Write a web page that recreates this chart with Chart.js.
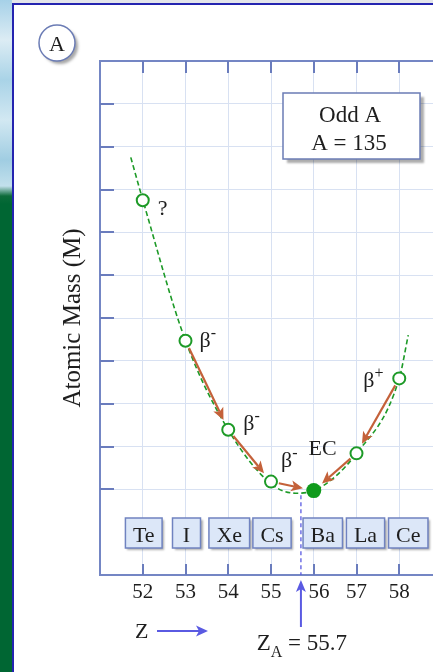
<!DOCTYPE html>
<html>
<head>
<meta charset="utf-8">
<script src="https://cdn.jsdelivr.net/npm/chart.js@4.4.1/dist/chart.umd.min.js"></script>
<style>
  html, body { margin: 0; padding: 0; width: 433px; height: 672px; overflow: hidden; background: #fff; }
  #sky { position: absolute; left: 0; top: 0; width: 12px; height: 672px;
    background: linear-gradient(to bottom, #a6d1e8 0px, #dcecf4 40px, #a9d3e7 80px, #d2e8f2 120px,
      #a0cde2 160px, #c2e0ec 186px, #0d6b3a 196px, #006633 204px, #006633 672px); }
  #edgeTop { position: absolute; left: 12px; top: 0; width: 421px; height: 3px; background: #e3e5ea; }
  #edgeTopLine { position: absolute; left: 12px; top: 3px; width: 421px; height: 2px; background: #2424b0; }
  #edgeLeft { position: absolute; left: 12px; top: 3px; width: 2px; height: 669px; background: #2424b0; }
  #wrap { position: absolute; left: 0; top: 0; width: 450px; height: 672px; }
</style>
</head>
<body>
<div id="sky"></div>
<div id="edgeTop"></div>
<div id="edgeTopLine"></div>
<div id="edgeLeft"></div>
<div id="wrap"><canvas id="chart" width="450" height="672"></canvas></div>
<script>
// Isobars with mass number A = 135
const protonNumbers = [52, 53, 54, 55, 56, 57, 58];
const symbols = ['Te', 'I', 'Xe', 'Cs', 'Ba', 'La', 'Ce'];
const atomicMass = [8.75, 5.47, 3.39, 2.18, 1.97, 2.84, 4.59];
const stableZ = 56;

// Mass parabola traced through the isobars
const curveZ = [51.72, 52, 53, 54, 55, 55.57, 56, 57, 58, 58.21];
const curveMass = [9.75, 8.76, 5.47, 3.39, 2.13, 1.91, 1.97, 2.84, 4.59, 5.6];

// Decay steps toward the stable isobar
const decayFrom = [53, 54, 55, 57, 58];
const decayTo = [54, 55, 56, 56, 57];
const decayLabels = ['β⁻', 'β⁻', 'β⁻', 'EC', 'β⁺'];

const zA = 55.7;
const xTicks = [52, 53, 54, 55, 56, 57, 58];
const yTicks = [2, 3, 4, 5, 6, 7, 8, 9, 10, 11];
const boxTitle = ['Odd A', 'A = 135'];

const SERIF = "'Liberation Serif', 'Times New Roman', serif";
const INK = '#1e1e1e';
const FRAME = '#7486c4';
const TICK = '#6a7cbd';
const GRID = '#d8e1f2';
const GREEN = '#1d9a27';
const DOT = '#0f9a1c';
const DECAY = '#c4613a';
const ZBLUE = '#5a5ae2';

function drawArrow(ctx, x1, y1, x2, y2, color, lw, headLen, headHalf) {
  const a = Math.atan2(y2 - y1, x2 - x1);
  const c = Math.cos(a), s = Math.sin(a);
  const bx = x2 - c * headLen, by = y2 - s * headLen;
  ctx.save();
  ctx.setLineDash([]);
  ctx.strokeStyle = color;
  ctx.fillStyle = color;
  ctx.lineWidth = lw;
  ctx.beginPath();
  ctx.moveTo(x1, y1);
  ctx.lineTo(bx + c * 3, by + s * 3);
  ctx.stroke();
  ctx.beginPath();
  ctx.moveTo(x2, y2);
  ctx.lineTo(bx - s * headHalf, by + c * headHalf);
  ctx.lineTo(bx + c * 3, by + s * 3);
  ctx.lineTo(bx + s * headHalf, by - c * headHalf);
  ctx.closePath();
  ctx.fill();
  ctx.restore();
}

function shadowRect(ctx, x, y, w, h, fill, stroke, off) {
  ctx.save();
  ctx.shadowColor = 'rgba(0,0,0,0.32)';
  ctx.shadowOffsetX = off;
  ctx.shadowOffsetY = off;
  ctx.shadowBlur = 2;
  ctx.fillStyle = fill;
  ctx.fillRect(x, y, w, h);
  ctx.restore();
  ctx.save();
  ctx.strokeStyle = stroke;
  ctx.lineWidth = 1.5;
  ctx.strokeRect(x, y, w, h);
  ctx.restore();
}

// Base symbol with an optional raised charge sign
function drawDecayLabel(ctx, text, x, baseline) {
  const m = text.match(/^(.*?)([⁺⁻]?)$/);
  const base = m[1];
  const sup = m[2] === '⁺' ? '+' : (m[2] === '⁻' ? '-' : '');
  ctx.save();
  ctx.fillStyle = INK;
  ctx.textAlign = 'left';
  ctx.textBaseline = 'alphabetic';
  ctx.font = `22px ${SERIF}`;
  ctx.fillText(base, x, baseline);
  if (sup) {
    const w = ctx.measureText(base).width;
    ctx.font = `16px ${SERIF}`;
    ctx.fillText(sup, x + w, baseline - 9);
  }
  ctx.restore();
}

const annotate = {
  id: 'annotate',
  beforeDatasetsDraw(chart) {
    const { ctx, chartArea: ca, scales: { x, y } } = chart;
    ctx.save();

    // upper frame edge
    ctx.strokeStyle = FRAME;
    ctx.lineWidth = 2;
    ctx.beginPath();
    ctx.moveTo(ca.left - 1, ca.top);
    ctx.lineTo(ca.right, ca.top);
    ctx.stroke();

    // tick marks pointing into the plot
    ctx.strokeStyle = TICK;
    ctx.lineWidth = 2;
    ctx.beginPath();
    yTicks.forEach(v => {
      const py = Math.round(y.getPixelForValue(v));
      ctx.moveTo(ca.left, py);
      ctx.lineTo(ca.left + 14, py);
    });
    xTicks.forEach(v => {
      const px = Math.round(x.getPixelForValue(v));
      ctx.moveTo(px, ca.top);
      ctx.lineTo(px, ca.top + 12);
      ctx.moveTo(px, ca.bottom);
      ctx.lineTo(px, ca.bottom - 11);
    });
    ctx.stroke();

    // Z_A marker line down from the bottom of the parabola
    const xa = x.getPixelForValue(zA);
    ctx.strokeStyle = ZBLUE;
    ctx.lineWidth = 1.3;
    ctx.setLineDash([4, 3]);
    ctx.beginPath();
    ctx.moveTo(xa, y.getPixelForValue(Math.min(...curveMass)) + 2);
    ctx.lineTo(xa, ca.bottom);
    ctx.stroke();
    ctx.setLineDash([]);

    // element symbol boxes
    ctx.font = `22px ${SERIF}`;
    symbols.forEach((s, i) => {
      const z = protonNumbers[i];
      const cx = x.getPixelForValue(z) + (z > zA ? 9 : 1);
      const w = Math.max(28, ctx.measureText(s).width + 15);
      const top = ca.bottom - 57;
      shadowRect(ctx, cx - w / 2, top, w, 30, '#dce7f8', '#7083c0', 2);
      ctx.fillStyle = INK;
      ctx.textAlign = 'center';
      ctx.textBaseline = 'alphabetic';
      ctx.fillText(s, cx, top + 23.5);
    });

    // "Odd A" caption box
    const bx = ca.left + 183, by = ca.top + 32, bw = 137, bh = 66;
    shadowRect(ctx, bx, by, bw, bh, '#ffffff', '#6b7cb5', 4);
    ctx.font = `23px ${SERIF}`;
    ctx.fillStyle = INK;
    ctx.textAlign = 'center';
    ctx.textBaseline = 'alphabetic';
    ctx.fillText(boxTitle[0], bx + 67, by + 29);
    ctx.fillText(boxTitle[1], bx + 66, by + 57);
    ctx.restore();
  },

  afterDatasetsDraw(chart) {
    const { ctx, scales: { x, y } } = chart;
    const pt = z => ({
      x: x.getPixelForValue(z),
      y: y.getPixelForValue(atomicMass[protonNumbers.indexOf(z)])
    });
    const labelShift = [[14, 6], [15, 0], [10, -15], [-48, 2], [-36, 9]];
    decayFrom.forEach((zf, i) => {
      const p1 = pt(zf), p2 = pt(decayTo[i]);
      const dx = p2.x - p1.x, dy = p2.y - p1.y, len = Math.hypot(dx, dy);
      const ux = dx / len, uy = dy / len;
      drawArrow(ctx, p1.x + ux * 8, p1.y + uy * 8, p2.x - ux * 11, p2.y - uy * 11, DECAY, 2.2, 12, 5.5);
      drawDecayLabel(ctx, decayLabels[i], p1.x + labelShift[i][0], p1.y + labelShift[i][1]);
    });
    const te = pt(52);
    drawDecayLabel(ctx, '?', te.x + 15, te.y + 15);
  },

  afterDraw(chart) {
    const { ctx, chartArea: ca, scales: { x } } = chart;
    const xa = x.getPixelForValue(zA);
    ctx.save();

    // arrow pointing up at Z_A with its label
    drawArrow(ctx, xa, ca.bottom + 52, xa, ca.bottom + 5, ZBLUE, 2, 12, 5);
    ctx.fillStyle = INK;
    ctx.textBaseline = 'alphabetic';
    ctx.textAlign = 'left';
    ctx.font = `23px ${SERIF}`;
    const wZ = ctx.measureText('Z').width;
    const wRest = ctx.measureText(' = ' + zA).width;
    ctx.font = `16px ${SERIF}`;
    const wSub = ctx.measureText('A').width;
    let tx = xa + 1 - (wZ + wSub + wRest) / 2;
    const base = ca.bottom + 75;
    ctx.font = `23px ${SERIF}`;
    ctx.fillText('Z', tx, base);
    ctx.font = `16px ${SERIF}`;
    ctx.fillText('A', tx + wZ, base + 7);
    ctx.font = `23px ${SERIF}`;
    ctx.fillText(' = ' + zA, tx + wZ + wSub, base);

    // direction of increasing Z
    ctx.font = `22px ${SERIF}`;
    ctx.fillText('Z', ca.left + 35, ca.bottom + 63);
    drawArrow(ctx, ca.left + 57, ca.bottom + 56, ca.left + 108, ca.bottom + 56, ZBLUE, 2, 12, 5.5);

    // panel letter
    ctx.save();
    ctx.shadowColor = 'rgba(0,0,0,0.35)';
    ctx.shadowOffsetX = 3;
    ctx.shadowOffsetY = 3;
    ctx.shadowBlur = 3;
    ctx.fillStyle = '#ffffff';
    ctx.beginPath();
    ctx.arc(57, 43, 18, 0, Math.PI * 2);
    ctx.fill();
    ctx.restore();
    ctx.strokeStyle = '#6b7cb5';
    ctx.lineWidth = 1.5;
    ctx.beginPath();
    ctx.arc(57, 43, 18, 0, Math.PI * 2);
    ctx.stroke();
    ctx.fillStyle = INK;
    ctx.textAlign = 'center';
    ctx.font = `22px ${SERIF}`;
    ctx.fillText('A', 57, 51);
    ctx.restore();
  }
};

new Chart(document.getElementById('chart'), {
  type: 'line',
  data: {
    datasets: [
      {
        label: 'isobars',
        data: protonNumbers.map((z, i) => ({ x: z, y: atomicMass[i] })),
        showLine: false,
        pointRadius: c => (c.raw && c.raw.x === stableZ ? 7.5 : 6),
        pointBorderWidth: c => (c.raw && c.raw.x === stableZ ? 0 : 2),
        pointBorderColor: GREEN,
        pointBackgroundColor: c => (c.raw && c.raw.x === stableZ ? DOT : '#ffffff'),
        order: 0
      },
      {
        label: 'mass parabola',
        data: curveZ.map((z, i) => ({ x: z, y: curveMass[i] })),
        borderColor: GREEN,
        borderWidth: 1.6,
        borderDash: [5, 3],
        pointRadius: 0,
        cubicInterpolationMode: 'monotone',
        fill: false,
        order: 1
      }
    ]
  },
  options: {
    responsive: false,
    animation: false,
    events: [],
    layout: { padding: { top: 61, left: 0, right: 0, bottom: 0 } },
    plugins: { legend: { display: false }, tooltip: { enabled: false } },
    scales: {
      x: {
        type: 'linear',
        min: 51,
        max: 59,
        afterBuildTicks: s => { s.ticks = xTicks.map(v => ({ value: v })); },
        afterFit: s => { s.height = 97; },
        grid: { color: GRID, lineWidth: 1, drawTicks: false },
        border: { color: FRAME, width: 2 },
        ticks: {
          font: { family: SERIF, size: 21 },
          color: INK,
          padding: 5,
          maxRotation: 0,
          autoSkip: false,
          callback: v => (v === 56 ? '\u2002' + v : String(v))
        }
      },
      y: {
        type: 'linear',
        min: 0,
        max: 12,
        afterBuildTicks: s => { s.ticks = yTicks.map(v => ({ value: v })); },
        afterFit: s => { s.width = 100; },
        grid: { color: GRID, lineWidth: 1, drawTicks: false },
        border: { color: FRAME, width: 2 },
        ticks: { display: false },
        title: {
          display: true,
          text: 'Atomic Mass (M)',
          font: { family: SERIF, size: 25 },
          color: INK,
          padding: { top: 58, bottom: 0 }
        }
      }
    }
  },
  plugins: [annotate]
});
</script>
</body>
</html>
